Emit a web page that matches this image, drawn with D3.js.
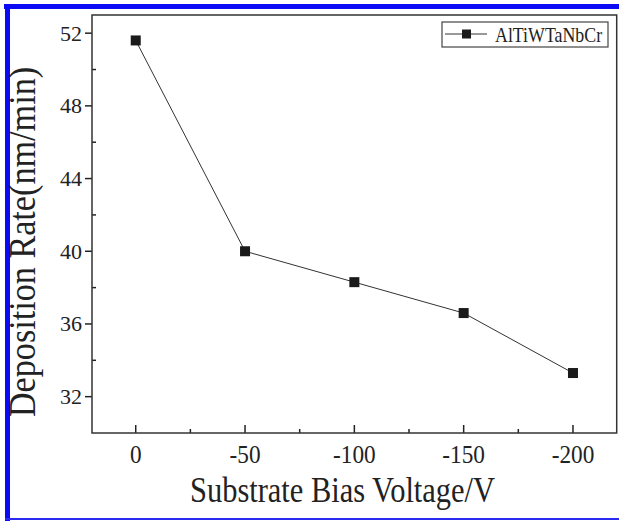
<!DOCTYPE html>
<html>
<head>
<meta charset="utf-8">
<script src="https://cdn.jsdelivr.net/npm/d3@7"></script>
<style>
body{margin:0;background:#fff}
svg text{font-family:"Liberation Serif","Times New Roman",Times,serif;fill:#222}
</style>
</head>
<body>
<div id="grafica"></div>
<script>
// datos
var voltajes=[0,-50,-100,-150,-200]
var tasas=[51.6,40.0,38.3,36.6,33.3]
var ticksX=[0,-50,-100,-150,-200]
var ticksY=[32,36,40,44,48,52]
var serie="AlTiWTaNbCr"

var ancho=619, alto=521
var margin={top:15,left:92,right:2,bottom:88}

var svg=d3.select("#grafica").append("svg")
	.attr("width",ancho).attr("height",alto)

// marco azul
svg.append("rect").attr("x",4).attr("y",4).attr("width",615).attr("height",5).attr("fill","#0a0af5")
svg.append("rect").attr("x",5).attr("y",4).attr("width",5).attr("height",517).attr("fill","#0a0af5")
svg.append("rect").attr("x",5).attr("y",518).attr("width",614).attr("height",2).attr("fill","#2a2af0")

var escalaX=d3.scaleLinear().domain([20,-220]).range([margin.left,ancho-margin.right-0.3])
var escalaY=d3.scaleLinear().domain([30,53]).range([alto-margin.bottom,margin.top])

var g=svg.append("g")

// ticks menores
var menoresX=d3.range(-25,-225,-50)
g.selectAll(".mx").data(menoresX).enter().append("line")
	.attr("x1",d=>escalaX(d)).attr("x2",d=>escalaX(d))
	.attr("y1",escalaY(30)).attr("y2",escalaY(30)-4)
	.attr("stroke","#222").attr("stroke-width",1.5)
g.selectAll(".Mx").data(ticksX).enter().append("line")
	.attr("x1",d=>escalaX(d)).attr("x2",d=>escalaX(d))
	.attr("y1",escalaY(30)).attr("y2",escalaY(30)-8)
	.attr("stroke","#222").attr("stroke-width",1.5)
g.selectAll(".lx").data(ticksX).enter().append("text")
	.attr("transform",d=>"translate("+escalaX(d)+","+(escalaY(30)+30)+") scale(0.95,1)")
	.attr("text-anchor","middle").attr("font-size",24.5)
	.text(d=>d)

var menoresY=d3.range(34,54,4)
g.selectAll(".my").data(menoresY).enter().append("line")
	.attr("x1",escalaX(20)).attr("x2",escalaX(20)+4)
	.attr("y1",d=>escalaY(d)).attr("y2",d=>escalaY(d))
	.attr("stroke","#222").attr("stroke-width",1.5)
g.selectAll(".My").data(ticksY).enter().append("line")
	.attr("x1",escalaX(20)).attr("x2",escalaX(20)-7)
	.attr("y1",d=>escalaY(d)).attr("y2",d=>escalaY(d))
	.attr("stroke","#222").attr("stroke-width",1.5)
g.selectAll(".ly").data(ticksY).enter().append("text")
	.attr("x",escalaX(20)-10).attr("y",d=>escalaY(d)+7.5)
	.attr("text-anchor","end").attr("font-size",22)
	.text(d=>d)

// caja
g.append("rect")
	.attr("x",escalaX(20)).attr("y",escalaY(53))
	.attr("width",escalaX(-220)-escalaX(20)).attr("height",escalaY(30)-escalaY(53))
	.attr("fill","none").attr("stroke","#333").attr("stroke-width",1.5)

// linea y puntos
var datos=voltajes.map((v,i)=>({v:v,r:tasas[i]}))
g.append("path").datum(datos)
	.attr("d",d3.line().x(d=>escalaX(d.v)).y(d=>escalaY(d.r)))
	.attr("fill","none").attr("stroke","#333").attr("stroke-width",1)
g.selectAll(".pt").data(datos).enter().append("rect")
	.attr("x",d=>escalaX(d.v)-5).attr("y",d=>escalaY(d.r)-5)
	.attr("width",10).attr("height",10).attr("fill","#1a1a1a")

// leyenda
var ley=g.append("g").attr("transform","translate(442,22)")
ley.append("rect").attr("width",166).attr("height",25)
	.attr("fill","#fff").attr("stroke","#444").attr("stroke-width",1.2)
ley.append("line").attr("x1",3).attr("x2",45).attr("y1",12).attr("y2",12)
	.attr("stroke","#333").attr("stroke-width",1)
ley.append("rect").attr("x",20).attr("y",7.5).attr("width",9).attr("height",9).attr("fill","#1a1a1a")
ley.append("text").attr("transform","translate(53,19.5) scale(0.85,1)")
	.attr("font-size",21).text(serie)

// titulos
svg.append("text").attr("transform","translate(342.5,502) scale(0.87,1)")
	.attr("text-anchor","middle").attr("font-size",35)
	.text("Substrate Bias Voltage/V")
svg.append("text").attr("transform","translate(35,242) rotate(-90) scale(0.9,1)")
	.attr("text-anchor","middle").attr("font-size",38)
	.text("Deposition Rate(nm/min)")
</script>
</body>
</html>
